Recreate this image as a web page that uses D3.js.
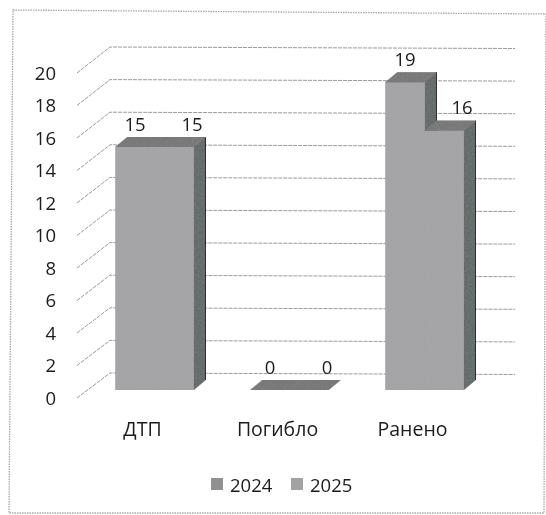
<!DOCTYPE html>
<html lang="ru">
<head>
<meta charset="utf-8">
<script src="https://cdn.jsdelivr.net/npm/d3@7"></script>
<style>
html,body{margin:0;padding:0;background:#fff}
svg{display:block}
text{font-family:"Open Sans","Noto Sans",sans-serif;fill:#1c1c1c}
</style>
</head>
<body>
<svg id="chart" width="546" height="515"></svg>
<script>
const categories = ["ДТП", "Погибло", "Ранено"];
const seriesNames = ["2024", "2025"];
const values2024 = [15, 0, 19];
const values2025 = [15, 0, 16];
const yTicks = [0, 2, 4, 6, 8, 10, 12, 14, 16, 18, 20];

const W = 546, H = 515;
const svg = d3.select("#chart");
const defs = svg.append("defs");
defs.append("filter").attr("id", "scan")
  .attr("x", "-5%").attr("y", "-5%").attr("width", "110%").attr("height", "110%")
  .append("feGaussianBlur").attr("stdDeviation", 0.4);

// grain on bar faces, like the scanned original
const grain = defs.append("filter").attr("id", "grain")
  .attr("x", "0").attr("y", "0").attr("width", "100%").attr("height", "100%");
grain.append("feTurbulence").attr("type", "fractalNoise").attr("baseFrequency", 0.5)
  .attr("numOctaves", 2).attr("seed", 4).attr("result", "n");
grain.append("feColorMatrix").attr("in", "n").attr("type", "matrix")
  .attr("values", "0 0 0 0 0.35  0 0 0 0 0.35  0 0 0 0 0.4  0 0 0 0.35 -0.08").attr("result", "c");
grain.append("feComposite").attr("in", "c").attr("in2", "SourceAlpha").attr("operator", "in").attr("result", "m");
const gm = grain.append("feMerge");
gm.append("feMergeNode").attr("in", "SourceGraphic");
gm.append("feMergeNode").attr("in", "m");

const root = svg.append("g").attr("filter", "url(#scan)");

// 3D projection: front plane plus an offset for the depth plane
const depthX = 12, depthY = -10;
const yFront = d3.scaleLinear().domain([0, 20]).range([390, 66]);
const yWallFront = d3.scaleLinear().domain([0, 20]).range([398, 73]);
const yWallBack = d3.scaleLinear().domain([0, 20]).range([373, 47]);
const xCat = d3.scaleBand().domain(categories).range([87, 492]);
const xSeries = d3.scaleBand().domain(seriesNames).range([0, 78]);
const wallLeft = 77, wallBack = 110, wallRight = 515, tilt = 1.5;
const barLeft = b => xCat(b.cat) + (xCat.bandwidth() - xSeries.range()[1]) / 2 + xSeries(b.series);

// frame
root.append("path")
  .attr("d", d3.line()([[13, 10], [546, 14], [544, 513], [9, 513]]) + "Z")
  .attr("fill", "none").attr("stroke", "#a8a8a8").attr("stroke-width", 1.3)
  .attr("stroke-dasharray", "1.5 1");

// wall gridlines
const grid = root.append("g").attr("fill", "none").attr("stroke", "#9a9a9a")
  .attr("stroke-width", 1).attr("stroke-dasharray", "4 1");
grid.selectAll("path").data(yTicks).join("path")
  .attr("d", t => d3.line()([
    [wallLeft, yWallFront(t)],
    [wallBack, yWallBack(t)],
    [wallRight, yWallBack(t) + tilt]
  ]));

// y tick labels
root.append("g").selectAll("text").data(yTicks).join("text")
  .attr("x", 56).attr("y", t => yWallFront(t) - 1)
  .attr("text-anchor", "end").attr("dominant-baseline", "central")
  .attr("font-size", 18.5).text(d => d);

// bars
const bars = seriesNames.flatMap((s, si) => categories.map((c, ci) => ({
  cat: c, series: s, value: (si === 0 ? values2024 : values2025)[ci]
})));
const face = (pts, fill) => root.append("path")
  .attr("d", d3.line()(pts) + "Z").attr("fill", fill).attr("stroke", fill)
  .attr("stroke-width", 0.6).attr("filter", "url(#grain)");

bars.forEach(b => {
  const x0 = barLeft(b);
  const x1 = x0 + xSeries.bandwidth();
  const yb = yFront(0), yt = yFront(b.value);
  const dx = depthX, dy = depthY;
  if (b.value > 0) {
    face([[x1, yt], [x1 + dx, yt + dy], [x1 + dx, yb + dy], [x1, yb]], "#5e6865");
    // dark right edge of the side face
    root.append("line").attr("x1", x1 + dx).attr("x2", x1 + dx)
      .attr("y1", yt + dy).attr("y2", yb + dy)
      .attr("stroke", "#2e2e2e").attr("stroke-width", 1);
    face([[x0, yt], [x1, yt], [x1, yb], [x0, yb]], "#a6a6a8");
  }
  face([[x0, yt], [x1, yt], [x1 + dx, yt + dy], [x0 + dx, yt + dy]], "#767676");
});

// data labels
root.append("g").selectAll("text").data(bars).join("text")
  .attr("x", b => barLeft(b) + xSeries.bandwidth() / 2 + (b.series === "2025" ? 18 : 0))
  .attr("y", b => yFront(b.value) - 24)
  .attr("text-anchor", "middle").attr("dominant-baseline", "central")
  .attr("font-size", 18.5).text(b => b.value);

// category labels
root.append("g").selectAll("text").data(categories).join("text")
  .attr("x", c => xCat(c) + xCat.bandwidth() / 2 - 12)
  .attr("y", 428)
  .attr("text-anchor", "middle").attr("dominant-baseline", "central")
  .attr("font-size", 19.5).text(c => c);

// legend
const legendX = d3.scalePoint().domain(seriesNames).range([211, 291]);
const leg = root.append("g").selectAll("g").data(seriesNames).join("g")
  .attr("transform", s => `translate(${legendX(s)},484)`);
leg.append("rect").attr("x", 0).attr("y", -6).attr("width", 12).attr("height", 12)
  .attr("fill", (s, i) => i === 0 ? "#8f8f8f" : "#a3a3a3").attr("filter", "url(#grain)");
leg.append("text").attr("x", 19).attr("y", 0).attr("dominant-baseline", "central")
  .attr("font-size", 18.5).text(s => s);
</script>
</body>
</html>
